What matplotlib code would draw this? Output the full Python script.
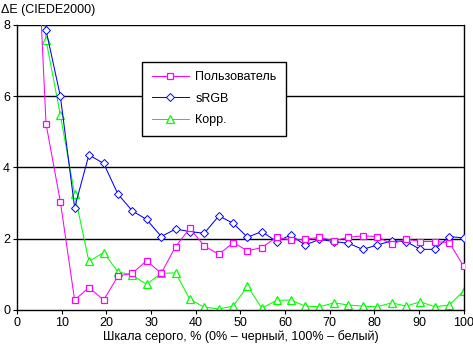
import matplotlib

matplotlib.use("Agg")
import matplotlib.pyplot as plt

plt.rcParams["font.family"] = ["Liberation Sans", "DejaVu Sans"]

# gray level steps, %
gray = [3.2, 6.5, 9.7, 12.9, 16.1, 19.4, 22.6, 25.8, 29.0, 32.3, 35.5,
        38.7, 41.9, 45.2, 48.4, 51.6, 54.8, 58.1, 61.3, 64.5, 67.7, 71.0,
        74.2, 77.4, 80.6, 83.9, 87.1, 90.3, 93.5, 96.8, 100.0]

user = [14.0, 5.22, 3.04, 0.28, 0.63, 0.28, 0.95, 1.03, 1.38, 1.03, 1.78,
        2.29, 1.80, 1.56, 1.89, 1.66, 1.75, 2.04, 1.96, 1.98, 2.04, 1.94,
        2.04, 2.08, 2.06, 1.85, 1.99, 1.92, 1.92, 1.89, 1.22]

srgb = [14.2, 7.85, 6.0, 2.87, 4.35, 4.11, 3.25, 2.78, 2.54, 2.06, 2.27,
        2.20, 2.15, 2.64, 2.43, 2.04, 2.20, 1.92, 2.10, 1.82, 1.98, 1.92,
        1.87, 1.70, 1.82, 1.94, 1.92, 1.70, 1.70, 2.06, 2.02]

corr = [15.0, 7.57, 5.47, 3.25, 1.36, 1.61, 1.07, 0.98, 0.72, 1.03, 1.04,
        0.30, 0.08, 0.03, 0.11, 0.67, 0.05, 0.27, 0.28, 0.11, 0.09, 0.20,
        0.14, 0.11, 0.09, 0.20, 0.11, 0.23, 0.09, 0.14, 0.54]

labels = ["Пользователь", "sRGB", "Корр."]
xticks = [0, 10, 20, 30, 40, 50, 60, 70, 80, 90, 100]
yticks = [0, 2, 4, 6, 8]

W, H = 473, 353
fig = plt.figure(figsize=(W / 100, H / 100), dpi=100)
ax = fig.add_axes([17 / W, (H - 310) / H, (463.7 - 17) / W, (310 - 24.7) / H])

for y in yticks[1:]:
    ax.axhline(y, color="black", lw=1.0, zorder=1)

ax.plot(gray, srgb, color="#0000ff", lw=0.75, marker="D", ms=3.8,
        mfc="white", mec="#0000ff", mew=0.7, label=labels[1], zorder=3)
ax.plot(gray, user, color="#ff00ff", lw=0.75, marker="s", ms=4.6,
        mfc="white", mec="#ff00ff", mew=0.9, label=labels[0], zorder=4)
ax.plot(gray, corr, color="#00ff00", lw=0.75, marker="^", ms=5.2,
        mfc="white", mec="#00ff00", mew=0.9, label=labels[2], zorder=2)

ax.set_xlim(0, 100)
ax.set_ylim(0, 8)
ax.set_xticks(xticks)
ax.set_yticks(yticks)
ax.tick_params(labelsize=9, length=3, width=0.8, direction="out", pad=2)
for side in ["left", "bottom", "right"]:
    ax.spines[side].set_color("black")
    ax.spines[side].set_linewidth(1.0)
ax.spines["top"].set_visible(False)

handles, labs = ax.get_legend_handles_labels()
order = [1, 0, 2]
leg = ax.legend([handles[i] for i in order], [labs[i] for i in order],
                loc="upper left", bbox_to_anchor=(0.2805, 0.869),
                borderaxespad=0, fancybox=False, framealpha=1,
                edgecolor="black", fontsize=9, handlelength=3.0,
                labelspacing=0.75, borderpad=0.75, handletextpad=0.5)
leg.get_frame().set_linewidth(1.0)
leg.set_zorder(10)

ax.set_xlabel("Шкала серого, % (0% – черный, 100% – белый)", fontsize=9,
              labelpad=1)
fig.text(1 / W, 1 - 10 / H, "ΔE (CIEDE2000)", fontsize=9, va="center",
         ha="left")

fig.savefig("out.png", dpi=100)
